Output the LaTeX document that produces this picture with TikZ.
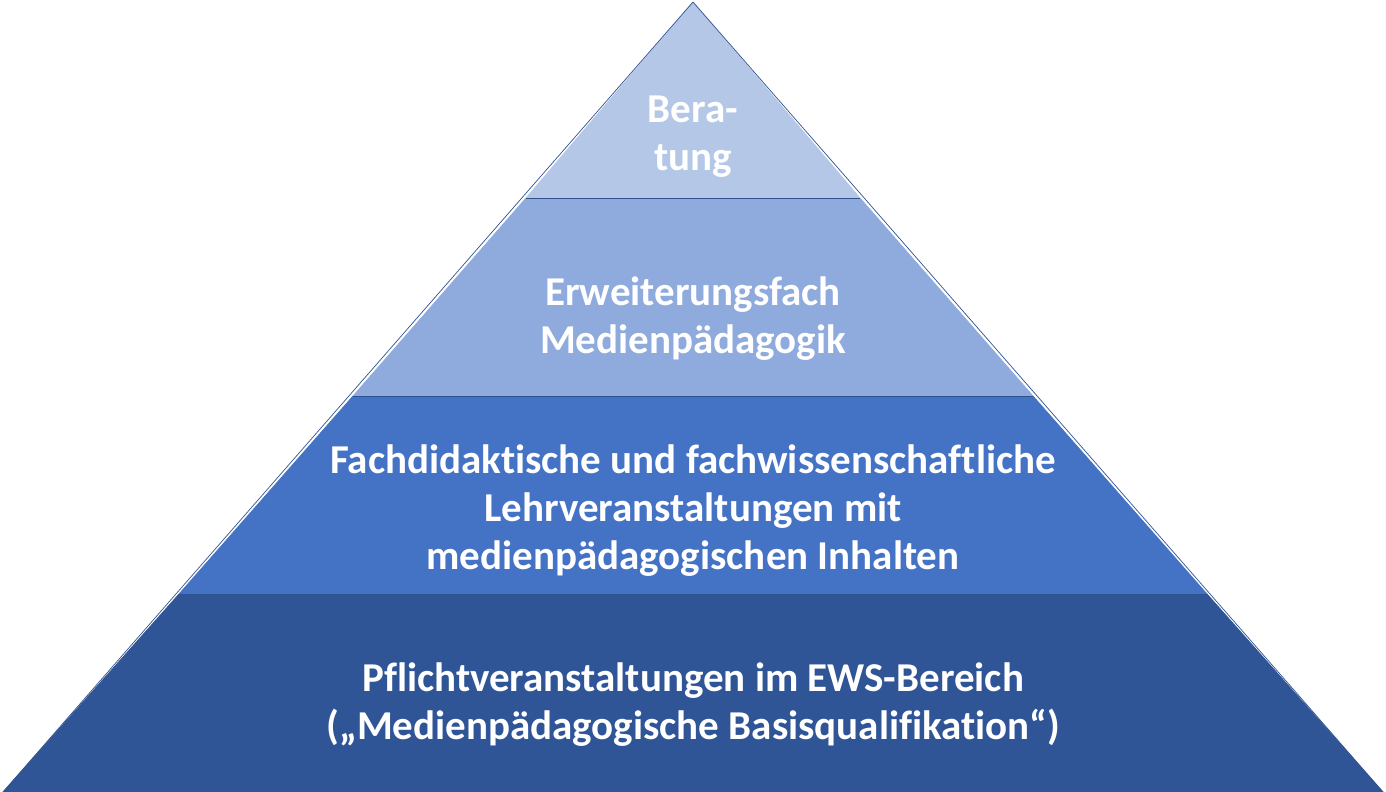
\documentclass[tikz,border=0pt]{standalone}
\usepackage{fontspec}
\setmainfont[Ligatures=NoCommon]{Carlito}
\usepackage{xcolor}
\definecolor{tipBlue}{HTML}{B4C7E7}
\definecolor{lightBlue}{HTML}{8FAADC}
\definecolor{midBlue}{HTML}{4472C4}
\definecolor{darkBlue}{HTML}{2F5597}
\definecolor{edgeBlue}{HTML}{2F528F}

\begin{document}
\begin{tikzpicture}[x=1pt,y=-1pt,
    layer/.style={draw=edgeBlue,line width=0.7pt,line join=round},
    label/.style={text=white,font=\bfseries\fontsize{41}{48}\selectfont,align=center,inner sep=0pt}]
        \useasboundingbox (0,0) rectangle (1386,792);
        % layers, bottom to top
        \fill[layer,darkBlue] (3,792) -- (179,594) -- (1207,594) -- (1383,792) -- cycle;
        \fill[layer,midBlue] (179,594) -- (353,396) -- (1033,396) -- (1207,594) -- cycle;
        \fill[layer,lightBlue] (353,396) -- (526,198) -- (860,198) -- (1033,396) -- cycle;
        \fill[layer,tipBlue] (526,198) -- (693,2) -- (860,198) -- cycle;
        \draw[layer] (3,792) -- (693,2) -- (1383,792);
        \draw[layer] (179,594) -- (1207,594);
        \draw[layer] (353,396) -- (1033,396);
        \draw[layer] (526,198) -- (860,198);

        % labels
        \node[label] (beratung) at (693,137) {Bera-\\tung};
        \node[label] (erweiterung) at (693,319) {Erweiterungsfach\\Medienpädagogik};
        \node[label] (fachdidaktik) at (693,511) {Fachdidaktische und fachwissenschaftliche\\Lehrveranstaltungen mit\\medienpädagogischen Inhalten};
        \node[label] (pflicht) at (693,705) {Pflichtveranstaltungen im EWS-Bereich\\(„Medienpädagogische Basisqualifikation“)};
    \end{tikzpicture}
\end{document}
